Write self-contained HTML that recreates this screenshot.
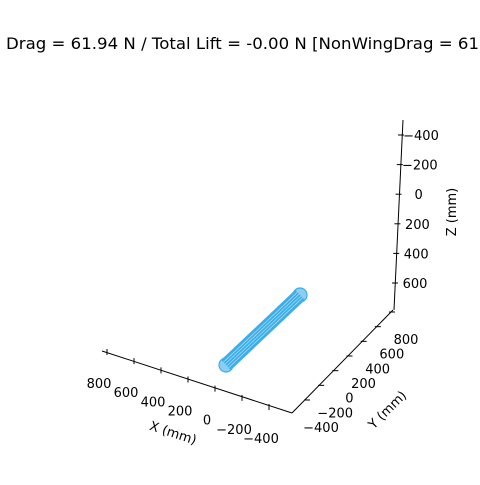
<!DOCTYPE html>
<html><head><meta charset="utf-8"><style>
body{margin:0;background:#fff;}
svg text{font-family:"DejaVu Sans","Liberation Sans",sans-serif;font-size:13px;fill:#000;}
</style></head><body>
<svg width="480" height="480" viewBox="0 0 480 480">
<text x="6" y="49" textLength="473" lengthAdjust="spacingAndGlyphs" style="font-size:16px">Drag = 61.94 N / Total Lift = -0.00 N [NonWingDrag = 61</text>
<g id="axes" stroke="#000" stroke-width="1" fill="none">
<line x1="102" y1="351" x2="292" y2="413"/>
<line x1="292" y1="413" x2="393" y2="310"/>
<line x1="403" y1="120" x2="394" y2="310"/>
</g>
<g id="ticks"></g>
<text x="148" y="438" transform="rotate(18 175 436)">X (mm)</text>
<text x="358" y="418" transform="rotate(-45 380 405)">Y (mm)</text>
<text x="456" y="212" transform="rotate(-90 456 212)" text-anchor="middle">Z (mm)</text>
<g id="body" stroke="#3daee9" fill="none" stroke-width="1.2"></g>
<script>
const xTicks=[800,600,400,200,0,-200,-400];
const yTicks=[-400,-200,0,200,400,600,800];
const zTicks=[-400,-200,0,200,400,600];
const ns="http://www.w3.org/2000/svg";
const tg=document.getElementById('ticks');
function mk(t,a,p){const e=document.createElementNS(ns,t);for(const k in a)e.setAttribute(k,a[k]);p.appendChild(e);return e;}
function xPos(v){const f=(800-v)/1200;return [107+f*162,352+f*55];}
function yPos(v){const f=(v+400)/1200;return [307+f*85,400-f*88];}
function zPos(v){const f=(v+400)/1000;return [401-f*6,135+f*148];}
xTicks.forEach(v=>{const [x,y]=xPos(v);
 const l=mk('line',{x1:x,y1:y-3,x2:x,y2:y+3,stroke:'#000'},tg);
 
 
 const t=mk('text',{x:x-8,y:y+36,'text-anchor':'middle'},tg);t.textContent=v<0?'\u2212'+(-v):v;
 
 });
yTicks.forEach(v=>{const [x,y]=yPos(v);
 const l=mk('line',{x1:x-3,y1:y,x2:x+3,y2:y,stroke:'#000'},tg);
 
 
 const t=mk('text',{x:x+14,y:y+32,'text-anchor':'middle'},tg);t.textContent=v<0?'\u2212'+(-v):v;
 
 });
zTicks.forEach(v=>{const [x,y]=zPos(v);
 const l=mk('line',{x1:x-3,y1:y,x2:x+3,y2:y,stroke:'#000'},tg);
 
 
 const t=mk('text',{x:x+20,y:y+5,'text-anchor':'middle'},tg);t.textContent=v<0?'\u2212'+(-v):v;
 
 });
const start=[226,365], end=[300,295], radius=7;
const bg=document.getElementById('body');
const dx=end[0]-start[0],dy=end[1]-start[1],L=Math.hypot(dx,dy),nx=-dy/L,ny=dx/L;
const poly=mk('polygon',{points:`${start[0]+nx*radius},${start[1]+ny*radius} ${end[0]+nx*radius},${end[1]+ny*radius} ${end[0]-nx*radius},${end[1]-ny*radius} ${start[0]-nx*radius},${start[1]-ny*radius}`,fill:'#3daee9',stroke:'none'},bg);


[start,end].forEach(p=>{const c=mk('circle',{cx:p[0],cy:p[1],r:radius,fill:'#3daee9','fill-opacity':'0.6'},bg);
 
 });
for(let i=0;i<4;i++){const o=(i-1.5)*2.5;
 const l=mk('line',{x1:start[0]+nx*o,y1:start[1]+ny*o,x2:end[0]+nx*o,y2:end[1]+ny*o,stroke:'#bfe6fa','stroke-width':'0.6'},bg);
 
 }
</script>
</svg>
</body></html>
